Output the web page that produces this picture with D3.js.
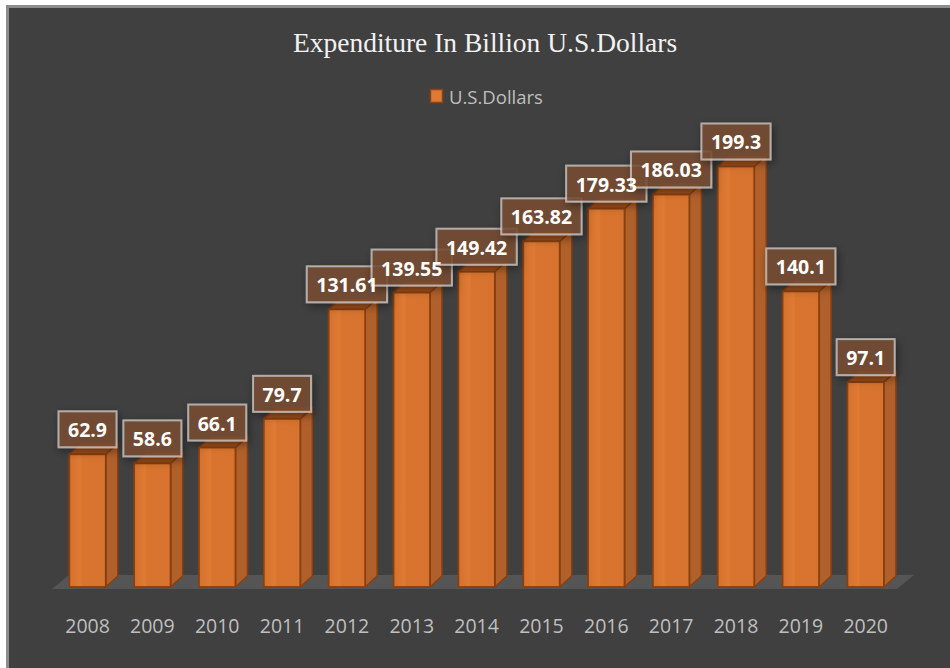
<!DOCTYPE html>
<html>
<head>
<meta charset="utf-8">
<script src="https://cdn.jsdelivr.net/npm/d3@7"></script>
<style>
  html, body { margin: 0; padding: 0; background: #ffffff; }
  svg { display: block; }
</style>
</head>
<body>
<svg id="chart" width="950" height="668"></svg>
<script>
// Annual expenditure, billion U.S. dollars
const years = ["2008","2009","2010","2011","2012","2013","2014","2015","2016","2017","2018","2019","2020"];
const values = [62.9, 58.6, 66.1, 79.7, 131.61, 139.55, 149.42, 163.82, 179.33, 186.03, 199.3, 140.1, 97.1];
const labels = ["62.9","58.6","66.1","79.7","131.61","139.55","149.42","163.82","179.33","186.03","199.3","140.1","97.1"];
const seriesName = "U.S.Dollars";
const titleText = "Expenditure In Billion U.S.Dollars";

const svg = d3.select("#chart");
const W = 950, H = 668;

// frame
svg.append("rect").attr("x", 7.5).attr("y", 6.5).attr("width", W - 6).attr("height", H - 4)
  .attr("fill", "#404040").attr("stroke", "#8c8c8c").attr("stroke-width", 3);

const defs = svg.append("defs");
const sh = defs.append("filter").attr("id", "lblShadow")
  .attr("x", "-40%").attr("y", "-40%").attr("width", "180%").attr("height", "180%");
sh.append("feDropShadow").attr("dx", 2).attr("dy", 3).attr("stdDeviation", 4)
  .attr("flood-color", "#000").attr("flood-opacity", 0.5);

const grad = defs.append("linearGradient").attr("id", "frontGrad")
  .attr("x1", "0").attr("x2", "1").attr("y1", "0").attr("y2", "0");
grad.append("stop").attr("offset", "0").attr("stop-color", "#d4712d");
grad.append("stop").attr("offset", "0.3").attr("stop-color", "#de7a34");
grad.append("stop").attr("offset", "0.36").attr("stop-color", "#d8742e");
grad.append("stop").attr("offset", "1").attr("stop-color", "#d6732f");

// title
svg.append("text").attr("x", 485).attr("y", 52).attr("text-anchor", "middle")
  .attr("font-family", "'Liberation Serif', 'Times New Roman', serif")
  .attr("font-size", 27.5).attr("fill", "#f2f2f2").text(titleText);

// legend
const lg = svg.append("g");
lg.append("rect").attr("x", 430.5).attr("y", 89.5).attr("width", 12).attr("height", 13)
  .attr("fill", "#de7a34").attr("stroke", "#8b4214").attr("stroke-width", 1.5);
lg.append("text").attr("x", 449).attr("y", 104)
  .attr("font-family", "'Open Sans', sans-serif").attr("font-size", 18.5)
  .attr("fill", "#bfbfbf").text(seriesName);

// scales
const x = d3.scaleBand().domain(years).range([55.1, 898.1]).paddingInner(0.437).paddingOuter(0.2185);
const y = d3.scaleLinear().domain([0, 200]).range([587, 165]);

// depth offsets for 3D look
const ddx = 12, ddy = -11;
const fdx = 17, fdy = -14;

// floor
const floorY = 589;
const fx0 = 52, fx1 = 897;
svg.append("path")
  .attr("d", `M${fx0},${floorY} L${fx1},${floorY} L${fx1 + fdx},${floorY + fdy} L${fx0 + fdx},${floorY + fdy} Z`)
  .attr("fill", "#555555");

// bars
const bars = svg.append("g").selectAll("g").data(years).join("g");
bars.each(function(d, i) {
  const g = d3.select(this);
  const x0 = x(d), x1 = x(d) + x.bandwidth();
  const yt = y(values[i]), yb = y(0);
  // side face
  g.append("path")
    .attr("d", `M${x1},${yb} L${x1 + ddx},${yb + ddy} L${x1 + ddx},${yt + ddy} L${x1},${yt} Z`)
    .attr("fill", "#b0602a").attr("stroke", "#8a3f10").attr("stroke-width", 1.5).attr("stroke-linejoin", "round");
  // top face
  g.append("path")
    .attr("d", `M${x0},${yt} L${x1},${yt} L${x1 + ddx},${yt + ddy} L${x0 + ddx},${yt + ddy} Z`)
    .attr("fill", "#a0501d").attr("stroke", "#8a3f10").attr("stroke-width", 1.5).attr("stroke-linejoin", "round");
  // front face
  g.append("rect").attr("x", x0).attr("y", yt).attr("width", x1 - x0).attr("height", yb - yt)
    .attr("fill", "url(#frontGrad)").attr("stroke", "#8a3f10").attr("stroke-width", 1.8);
});

// x axis labels
const xAxis = d3.axisBottom(x).tickSize(0).tickPadding(0);
const ax = svg.append("g").attr("transform", "translate(0,619)").call(xAxis);
ax.select(".domain").remove();
ax.selectAll("text").attr("font-family", "'Open Sans', sans-serif").attr("font-size", 19.5)
  .attr("fill", "#bfbfbf").attr("dy", "0.71em");

// value labels: translucent boxes first, then all texts on top
const boxLayer = svg.append("g");
const textLayer = svg.append("g");
years.forEach((d, i) => {
  const cx = x(d) + x.bandwidth() / 2;
  const bottom = y(values[i]) - 7;
  const t = textLayer.append("text").attr("x", cx).attr("y", bottom - 10).attr("text-anchor", "middle")
    .attr("font-family", "'Open Sans', sans-serif").attr("font-weight", "bold").attr("font-size", 19.5)
    .attr("fill", "#ffffff").text(labels[i]);
  const w = t.node().getComputedTextLength() + 19;
  boxLayer.append("rect").attr("x", cx - w / 2).attr("y", bottom - 36).attr("width", w).attr("height", 36)
    .attr("fill", "rgba(122,79,53,0.82)").attr("stroke", "rgba(215,215,215,0.7)").attr("stroke-width", 2)
    .attr("filter", "url(#lblShadow)");
});
</script>
</body>
</html>
